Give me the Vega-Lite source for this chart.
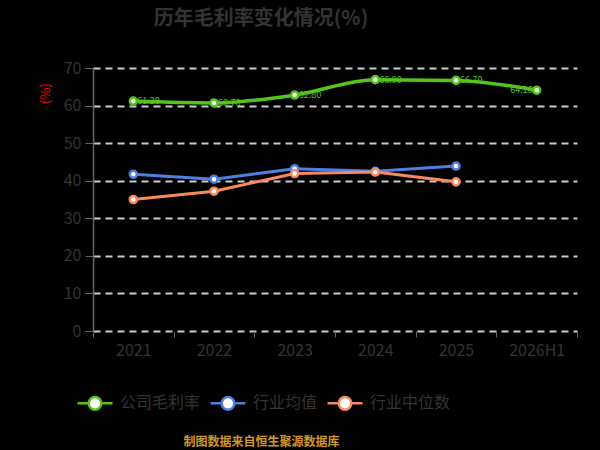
{
  "$schema": "https://vega.github.io/schema/vega-lite/v6.json",
  "autosize": {"type": "none"},
  "width": 484,
  "height": 263,
  "padding": {"left": 93, "top": 68, "right": 23, "bottom": 119},
  "background": "#000000",
  "title": {
    "text": "历年毛利率变化情况(%)",
    "fontSize": 20,
    "fontWeight": "bold",
    "color": "#333333",
    "font": "Noto Sans CJK SC",
    "anchor": "middle",
    "frame": "group",
    "dx": -74,
    "offset": 31
  },
  "config": {
    "view": {"stroke": null},
    "font": "Noto Sans CJK SC"
  },
  "data": {
    "values": [
      {"year": "2021", "series": "公司毛利率", "value": 61.2},
      {"year": "2022", "series": "公司毛利率", "value": 60.7},
      {"year": "2023", "series": "公司毛利率", "value": 62.8},
      {"year": "2024", "series": "公司毛利率", "value": 66.9},
      {"year": "2025", "series": "公司毛利率", "value": 66.7},
      {"year": "2026H1", "series": "公司毛利率", "value": 64.1},
      {"year": "2021", "series": "行业均值", "value": 41.7},
      {"year": "2022", "series": "行业均值", "value": 40.4},
      {"year": "2023", "series": "行业均值", "value": 43.2},
      {"year": "2024", "series": "行业均值", "value": 42.5},
      {"year": "2025", "series": "行业均值", "value": 43.9},
      {"year": "2021", "series": "行业中位数", "value": 35.0},
      {"year": "2022", "series": "行业中位数", "value": 37.2},
      {"year": "2023", "series": "行业中位数", "value": 41.9},
      {"year": "2024", "series": "行业中位数", "value": 42.3},
      {"year": "2025", "series": "行业中位数", "value": 39.7}
    ]
  },
  "encoding": {
    "x": {
      "field": "year",
      "type": "nominal",
      "sort": null,
      "scale": {"paddingInner": 0, "paddingOuter": 0},
      "axis": {
        "title": "制图数据来自恒生聚源数据库",
        "titleColor": "#d29a26",
        "titleFontSize": 12,
        "titleFontWeight": "bold",
        "titleX": 168,
        "titleY": 110,
        "titleAlign": "center",
        "titleBaseline": "middle",
        "labelAngle": 0,
        "labelFontSize": 16,
        "labelColor": "#333333",
        "labelPadding": 5,
        "tickBand": "extent",
        "tickColor": "#666666",
        "tickSize": 6,
        "domain": false,
        "grid": false
      }
    },
    "y": {
      "field": "value",
      "type": "quantitative",
      "scale": {"domain": [0, 70]},
      "axis": {
        "title": "(%)",
        "titleColor": "#ff0000",
        "titleFontSize": 13,
        "titleFontWeight": "normal",
        "titleX": -48,
        "titleY": 25,
        "titleAngle": -90,
        "titleAlign": "center",
        "titleBaseline": "middle",
        "values": [0, 10, 20, 30, 40, 50, 60, 70],
        "labelFontSize": 16,
        "labelColor": "#333333",
        "labelPadding": 4,
        "tickColor": "#666666",
        "tickSize": 8,
        "domainColor": "#666666",
        "domainWidth": 1.5,
        "grid": true,
        "gridColor": "#cccccc",
        "gridDash": [7, 5],
        "gridWidth": 2
      }
    }
  },
  "layer": [
    {
      "transform": [{"filter": "datum.series === '公司毛利率' && datum.year !== '2026H1'"}],
      "mark": {"type": "text", "align": "left", "baseline": "middle", "dx": 4, "fontSize": 9, "color": "#52c41a"},
      "encoding": {
        "text": {"field": "value", "type": "quantitative", "format": ".2f"}
      }
    },
    {
      "transform": [{"filter": "datum.series === '公司毛利率' && datum.year === '2026H1'"}],
      "mark": {"type": "text", "align": "right", "baseline": "middle", "dx": -4, "fontSize": 9, "color": "#52c41a"},
      "encoding": {
        "text": {"field": "value", "type": "quantitative", "format": ".2f"}
      }
    },
    {
      "transform": [{"filter": "datum.series !== '公司毛利率'"}],
      "mark": {"type": "line", "strokeWidth": 3},
      "encoding": {
        "stroke": {
          "field": "series",
          "type": "nominal",
          "scale": {
            "domain": ["公司毛利率", "行业均值", "行业中位数"],
            "range": ["#52c41a", "#4e7fe3", "#fa8a5c"]
          },
          "legend": {
            "title": null,
            "orient": "none",
            "direction": "horizontal",
            "legendX": -17,
            "legendY": 316,
            "labelFontSize": 16,
            "labelColor": "#333333",
            "labelOffset": 6,
            "columnPadding": 4,
            "symbolType": "M-1,0L-0.36,0M0.36,0L1,0M-0.36,0A0.36,0.36 0 1 1 0.36,0A0.36,0.36 0 1 1 -0.36,0Z",
            "symbolSize": 1225,
            "symbolStrokeWidth": 2.5,
            "symbolFillColor": "#ffffff",
            "values": ["公司毛利率", "行业均值", "行业中位数"]
          }
        }
      }
    },
    {
      "transform": [{"filter": "datum.series === '公司毛利率'"}],
      "mark": {"type": "line", "strokeWidth": 3.5, "interpolate": "monotone"},
      "encoding": {
        "stroke": {"field": "series", "type": "nominal"}
      }
    },
    {
      "mark": {"type": "point", "filled": false, "fill": "#ffffff", "fillOpacity": 1, "size": 50, "strokeWidth": 2.5, "opacity": 1},
      "encoding": {
        "stroke": {"field": "series", "type": "nominal"}
      }
    }
  ]
}
